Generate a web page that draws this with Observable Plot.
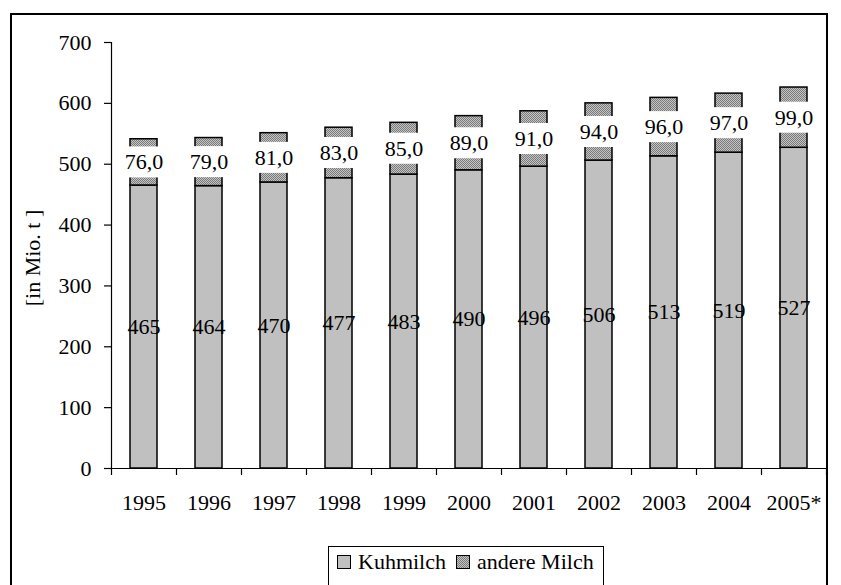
<!DOCTYPE html>
<html>
<head>
<meta charset="utf-8">
<script src="https://cdn.jsdelivr.net/npm/d3@7"></script>
<script src="https://cdn.jsdelivr.net/npm/@observablehq/plot@0.6"></script>
<style>
  html, body { margin: 0; padding: 0; background: white; }
  #wrap { position: relative; width: 841px; height: 585px; overflow: hidden; background: white;
          font-family: "Liberation Serif", "Times New Roman", serif; }
  #chart { position: absolute; left: 0; top: 0; }
  #frame { position: absolute; left: 10px; top: 13px; width: 818px; height: 640px;
           border: 2px solid #000; box-sizing: border-box; pointer-events: none; }
  #ylabel { position: absolute; left: 33px; top: 258px; transform: translate(-50%, -50%) rotate(-90deg);
            font-size: 22px; white-space: nowrap; color: #000; }
  #legend { position: absolute; left: 328px; top: 546px; width: 276px; height: 60px;
            border: 1px solid #000; box-sizing: border-box; background: white;
            display: flex; align-items: flex-start; padding: 2px 0 0 8px; font-size: 22px; color: #000; }
  .sw { display: inline-block; width: 14px; height: 14px; border: 1px solid #000; box-sizing: border-box;
        margin-top: 6px; margin-right: 7px; }
  .item { display: flex; align-items: flex-start; margin-right: 10px; white-space: nowrap; }
</style>
</head>
<body>
<div id="wrap">
  <div id="chart"></div>
  <div id="ylabel">[in Mio. t ]</div>
  <div id="legend"></div>
  <div id="frame"></div>
</div>
<script>
const years = ["1995","1996","1997","1998","1999","2000","2001","2002","2003","2004","2005*"];
const kuhmilch = [465,464,470,477,483,490,496,506,513,519,527];
const andereMilch = [76,79,81,83,85,89,91,94,96,97,99];
const yTicks = [0,100,200,300,400,500,600,700];
const seriesNames = ["Kuhmilch", "andere Milch"];
const seriesFills = ["#c0c0c0", "url(#hatch)"];

const rows = years.map((year, i) => ({i, year, kuh: kuhmilch[i], andere: andereMilch[i]}));
const fmtComma = v => v.toFixed(1).replace(".", ",");

const plot = Plot.plot({
  width: 841,
  height: 520,
  marginLeft: 111,
  marginRight: 15,
  marginTop: 42,
  marginBottom: 52,
  style: {fontFamily: "Liberation Serif, Times New Roman, serif", fontSize: "22px", color: "#000", background: "transparent"},
  x: {type: "linear", domain: [0, years.length], axis: null},
  y: {domain: [0, 700], axis: null},
  marks: [
    Plot.rectY(rows, {x1: d => d.i, x2: d => d.i + 1, y1: 0, y2: d => d.kuh,
      fill: seriesFills[0], stroke: "#000", strokeWidth: 1.5, insetLeft: 19, insetRight: 19}),
    Plot.rectY(rows, {x1: d => d.i, x2: d => d.i + 1, y1: d => d.kuh, y2: d => d.kuh + d.andere,
      fill: seriesFills[1], stroke: "#000", strokeWidth: 1.5, insetLeft: 19, insetRight: 19}),
    Plot.ruleX([0], {y1: 0, y2: 700, stroke: "#000", strokeWidth: 1.2}),
    Plot.ruleY([0], {x1: 0, x2: years.length, stroke: "#000", strokeWidth: 1.2}),
    Plot.axisY({ticks: yTicks, tickSize: 7, tickPadding: 13, label: null, tickFormat: d => String(d), strokeWidth: 1.2}),
    Plot.axisX({ticks: d3.range(0, years.length + 1), tickSize: 7, tickFormat: () => "", label: null, strokeWidth: 1.2}),
    Plot.axisX({ticks: rows.map(d => d.i + 0.5), tickSize: 0, tickPadding: 26, label: null,
      tickFormat: v => years[Math.round(v - 0.5)]}),
    Plot.text(rows, {x: d => d.i + 0.5, y: d => d.kuh / 2, text: d => String(d.kuh), fill: "#000", fontSize: 22}),
    Plot.text(rows, {x: d => d.i + 0.5, y: d => d.kuh + d.andere / 2, text: d => fmtComma(d.andere),
      fill: "#000", fontSize: 22, className: "andere-label"})
  ]
});

document.getElementById("chart").append(plot);

// pattern for "andere Milch"
const svg = d3.select(plot);
const defs = svg.insert("defs", ":first-child");
const pat = defs.append("pattern").attr("id", "hatch").attr("patternUnits", "userSpaceOnUse")
  .attr("width", 2).attr("height", 2);
pat.append("rect").attr("width", 2).attr("height", 2).attr("fill", "#c4c4c4");
pat.append("rect").attr("x", 0).attr("y", 0).attr("width", 1).attr("height", 1).attr("fill", "#7a7a7a");
pat.append("rect").attr("x", 1).attr("y", 1).attr("width", 1).attr("height", 1).attr("fill", "#7a7a7a");

// white label backgrounds behind the "andere Milch" values
svg.selectAll("g.andere-label text").each(function() {
  const b = this.getBBox();
  const r = document.createElementNS("http://www.w3.org/2000/svg", "rect");
  r.setAttribute("x", b.x - 3);
  r.setAttribute("y", b.y - 3);
  r.setAttribute("width", b.width + 6);
  r.setAttribute("height", b.height + 6);
  r.setAttribute("fill", "white");
  const t = this.getAttribute("transform");
  if (t) r.setAttribute("transform", t);
  this.parentNode.insertBefore(r, this);
});

// legend
const legend = document.getElementById("legend");
seriesNames.forEach((name, k) => {
  const item = document.createElement("span");
  item.className = "item";
  const sw = document.createElement("span");
  sw.className = "sw";
  if (k === 0) sw.style.background = seriesFills[0];
  else {
    sw.style.backgroundImage = "repeating-conic-gradient(#7a7a7a 0 25%, #c4c4c4 0 50%)";
    sw.style.backgroundSize = "2px 2px";
  }
  item.append(sw, document.createTextNode(name));
  legend.append(item);
});
</script>
</body>
</html>
